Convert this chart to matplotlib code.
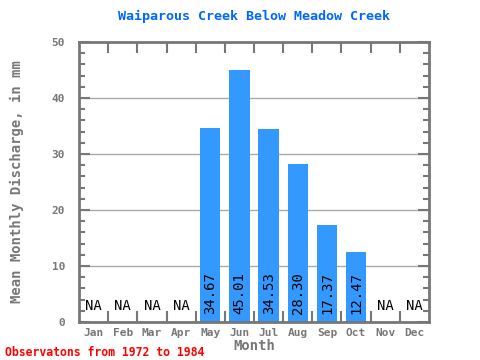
import matplotlib
matplotlib.use("Agg")
import matplotlib.pyplot as plt
from matplotlib.ticker import MultipleLocator

months = ["Jan", "Feb", "Mar", "Apr", "May", "Jun", "Jul", "Aug", "Sep", "Oct", "Nov", "Dec"]
values = [None, None, None, None, 34.67, 45.01, 34.53, 28.30, 17.37, 12.47, None, None]

GRAY = "#777777"
MONO = "DejaVu Sans Mono"

fig = plt.figure(figsize=(4.8, 3.6), dpi=100)
ax = fig.add_axes([79 / 480, 1 - 322 / 360, 350 / 480, 280 / 360])

x = list(range(len(months)))
for i, v in enumerate(values):
    if v is None:
        ax.text(i, 1.6, "NA", ha="center", va="bottom", fontsize=10,
                family=MONO, color="black")
    else:
        ax.bar(i, v, width=0.7, color="#3399ff", zorder=2)
        ax.text(i, 1.5, f"{v:.2f}", ha="center", va="bottom", rotation=90,
                fontsize=10, family=MONO, color="black", zorder=3)

ax.set_xlim(-0.5, 11.5)
ax.set_ylim(0, 50)
ax.yaxis.set_major_locator(MultipleLocator(10))
ax.yaxis.set_minor_locator(MultipleLocator(2))
ax.grid(axis="y", which="major", color="#aaaaaa", linewidth=1, zorder=1)

ax.set_xticks(x)
ax.set_xticklabels(months)
ax.set_xticks([i + 0.5 for i in range(11)], minor=True)
ax.tick_params(axis="x", which="major", length=0, pad=4, labelsize=8, labelcolor=GRAY)
ax.tick_params(axis="x", which="minor", direction="in", length=8, width=1.5,
               color=GRAY, top=True, bottom=True)
ax.tick_params(axis="y", which="major", direction="in", length=8, width=1.5,
               color=GRAY, labelsize=8, labelcolor=GRAY, pad=10, right=True)
ax.tick_params(axis="y", which="minor", direction="in", length=4, width=1.5,
               color=GRAY, right=True)
for lbl in ax.get_xticklabels() + ax.get_yticklabels():
    lbl.set_family(MONO)
    lbl.set_fontweight("bold")

for s in ax.spines.values():
    s.set_color(GRAY)
    s.set_linewidth(2)

ax.set_title("Waiparous Creek Below Meadow Creek", color="#0066ff", fontsize=9.6,
             family=MONO, fontweight="bold", pad=16)
ax.set_xlabel("Month", color=GRAY, fontsize=10, family=MONO, fontweight="bold", labelpad=1)
ax.set_ylabel("Mean Monthly Discharge, in mm", color=GRAY, fontsize=10, family=MONO,
              fontweight="bold", labelpad=20)

fig.text(5 / 480, 1 - 352 / 360, "Observatons from 1972 to 1984", color="red",
         fontsize=8.3, family=MONO, fontweight="bold", va="center")

fig.savefig("out.png", dpi=100)
